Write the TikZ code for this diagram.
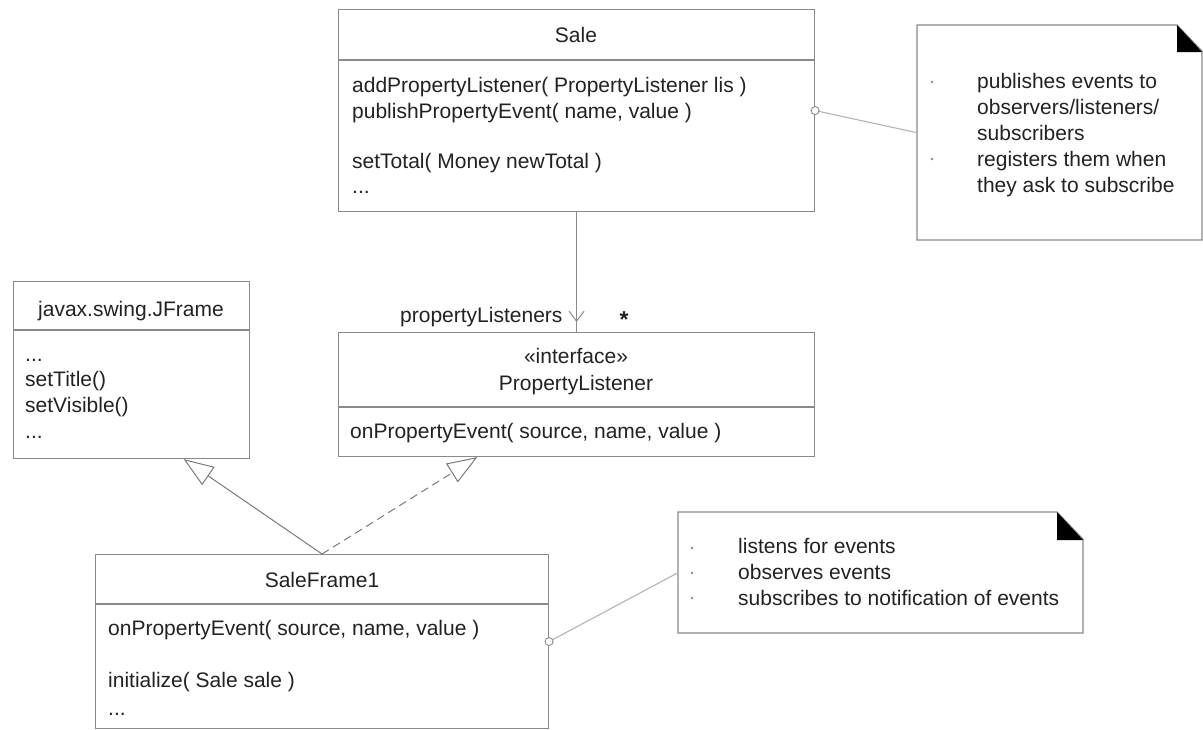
\documentclass[tikz,border=0pt]{standalone}
\usepackage{fontspec}
\setmainfont{Liberation Sans}
\usetikzlibrary{arrows.meta,calc,decorations.markings}
\definecolor{ink}{HTML}{222222}
\definecolor{frame}{HTML}{8A8A8A}
\definecolor{link}{HTML}{B4B4B4}
\definecolor{gen}{HTML}{7A7A7A}
\begin{document}
\begin{tikzpicture}[x=1pt,y=-1pt,
  classbox/.style={draw=frame, line width=1.1pt, inner sep=0pt, anchor=north west},
  hidden/.style={inner sep=0pt, anchor=north west},
  outline/.style={draw=frame, line width=1.1pt},
  txt/.style={anchor=base west, inner sep=0pt, text=ink, font=\fontsize{21}{26}\selectfont},
  ctxt/.style={anchor=base, inner sep=0pt, text=ink, font=\fontsize{21}{26}\selectfont},
  genline/.style={draw=gen, line width=1pt, -{Triangle[open, length=30pt, width=22pt, line width=1pt]}},
  assoc/.style={draw=frame, line width=1.1pt},
  notelink/.style={draw=link, line width=1.1pt},
  anchorring/.style={draw=frame, fill=white, line width=0.9pt},
  bullet/.style={fill=frame, draw=none}
]
\useasboundingbox[fill=white] (0,0) rectangle (1203,729);

% ---------------- Sale ----------------
\node[classbox, minimum width=476pt, minimum height=202pt] (sale) at (338,9) {};
\draw[outline] (338,60) -- (814,60);
\node[ctxt] (saleT) at (576,42) {Sale};
\node[txt] (saleA) at (352,92) {addPropertyListener( PropertyListener lis )};
\node[txt] (saleB) at (352,118) {publishPropertyEvent( name, value )};
\node[txt] (saleC) at (352,168) {setTotal( Money newTotal )};
\node[txt] (saleD) at (352,193) {...};

% ---------------- javax.swing.JFrame ----------------
\node[classbox, minimum width=236pt, minimum height=177pt] (jframe) at (13,281) {};
\draw[outline] (13,330) -- (249,330);
\node[ctxt] (jfT) at (131,316) {javax.swing.JFrame};
\node[txt] (jfA) at (25,361) {...};
\node[txt] (jfB) at (25,386) {setTitle()};
\node[txt] (jfC) at (25,412) {setVisible()};
\node[txt] (jfD) at (25,438) {...};

% ---------------- PropertyListener ----------------
\node[classbox, minimum width=476pt, minimum height=124pt] (pl) at (338,332) {};
\draw[outline] (338,407) -- (814,407);
\node[ctxt] (plS) at (576,363) {«interface»};
\node[ctxt] (plT) at (576,390) {PropertyListener};
\node[txt] (plA) at (350,438) {onPropertyEvent( source, name, value )};

% ---------------- SaleFrame1 ----------------
\node[classbox, minimum width=453pt, minimum height=174pt] (sf) at (95,554) {};
\draw[outline] (95,604) -- (548,604);
\node[ctxt] (sfT) at (322,587) {SaleFrame1};
\node[txt] (sfA) at (108,635) {onPropertyEvent( source, name, value )};
\node[txt] (sfB) at (108,687) {initialize( Sale sale )};
\node[txt] (sfC) at (108,715) {...};

% ---------------- notes ----------------
\node[hidden, minimum width=285pt, minimum height=215pt] (note1) at (917,25) {};
\draw[outline, fill=white] (917,25) -- (1177,25) -- (1202,51) -- (1202,240) -- (917,240) -- cycle;
\fill[black] (1177,25) -- (1177,52) -- (1202,52) -- cycle;
\node[txt] (n1a) at (977,88) {publishes events to};
\node[txt] (n1b) at (977,114) {observers/listeners/};
\node[txt] (n1c) at (977,140) {subscribers};
\node[txt] (n1d) at (977,166) {registers them when};
\node[txt] (n1e) at (977,192) {they ask to subscribe};
\fill[bullet] (932,82) circle (1.3);
\fill[bullet] (932,159) circle (1.3);

\node[hidden, minimum width=405pt, minimum height=121pt] (note2) at (678,512) {};
\draw[outline, fill=white] (678,512) -- (1057,512) -- (1083,539) -- (1083,633) -- (678,633) -- cycle;
\fill[black] (1057,512) -- (1057,540) -- (1083,540) -- cycle;
\node[txt] (n2a) at (738,553) {listens for events};
\node[txt] (n2b) at (738,579) {observes events};
\node[txt] (n2c) at (738,605) {subscribes to notification of events};
\fill[bullet] (692,548) circle (1.3);
\fill[bullet] (692,573) circle (1.3);
\fill[bullet] (692,598) circle (1.3);

% ---------------- connectors ----------------
% association Sale -> PropertyListener, navigable end drawn a little above the box
\draw[assoc, decoration={markings,
    mark=at position 0.917 with {\arrow{Straight Barb[length=10pt, width=15pt, line width=1pt]}}},
    postaction={decorate}] (sale.south) -- (pl.north);
\node[txt] (role) at (400,322) {propertyListeners};
\node[ctxt, font=\fontsize{23}{26}\selectfont\bfseries] (mult) at (624,327) {*};

% generalization and realization
\coordinate (jfHook) at ($(jframe.south west)!0.72!(jframe.south east)$);
\coordinate (plHook) at ($(pl.south west)!0.292!(pl.south east)$);
\draw[genline] (sf.north) -- (jfHook);
\draw[genline, dash pattern=on 8pt off 5pt] (sf.north) -- (plHook);

% note attachments
\draw[notelink] (sale.east) -- (note1.west);
\draw[notelink] (sf.east) -- (note2.west);
\draw[anchorring] (sale.east) circle (4);
\draw[anchorring] (sf.east) circle (4);
\end{tikzpicture}
\end{document}
